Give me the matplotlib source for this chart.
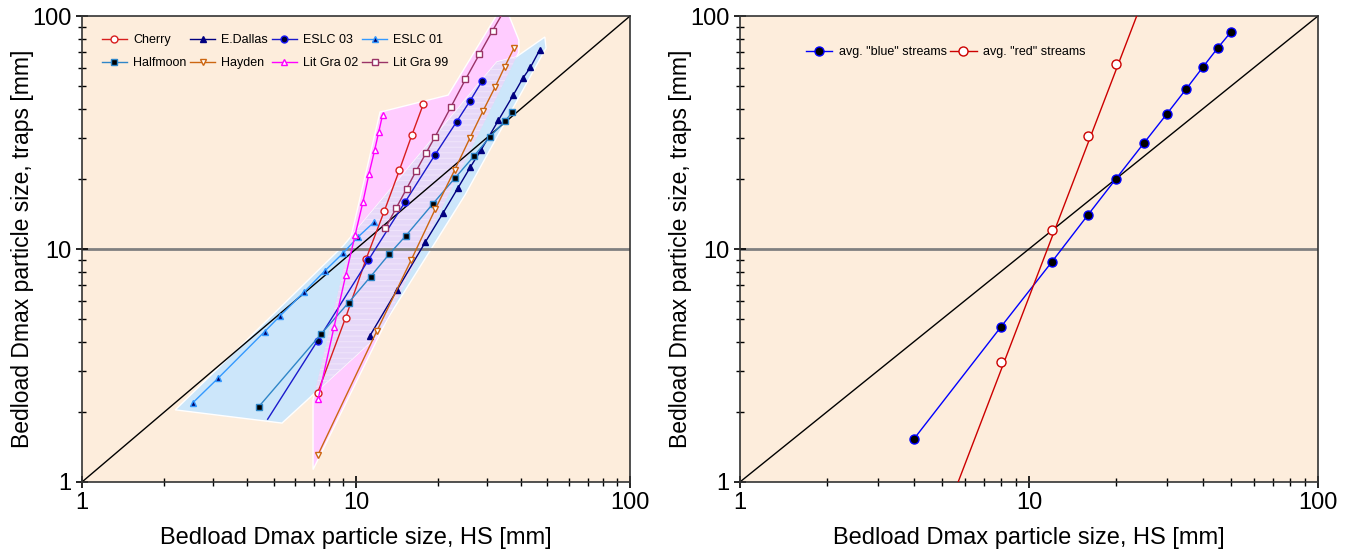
import numpy as np
import matplotlib.pyplot as plt
from matplotlib.patches import Polygon

plt.rcParams['font.family'] = ['Liberation Sans', 'DejaVu Sans']
plt.rcParams['hatch.linewidth'] = 0.8

# ---- left panel data: Dmax HS [mm] vs Dmax traps [mm]
cherry_x = [7.25, 9.17, 10.9, 12.7, 14.4, 16.0, 17.6]
cherry_y = [2.42, 5.08, 9.10, 14.6, 21.8, 30.9, 41.8]

edallas_x = [11.25, 14.1, 17.9, 20.8, 23.5, 26.1, 28.6, 33.1, 37.5, 40.6, 43.3, 46.9]
edallas_y = [4.25, 6.65, 10.7, 14.3, 18.2, 22.4, 26.6, 35.7, 45.8, 54.0, 60.2, 71.8]

eslc03_x = [4.76, 7.24, 11.1, 15.1, 19.4, 23.3, 26.1, 28.8]
eslc03_y = [1.86, 4.04, 8.97, 15.9, 25.3, 35.2, 43.3, 52.4]

eslc01_x = [2.54, 3.14, 4.64, 5.29, 6.47, 7.69, 8.97, 10.2, 11.6]
eslc01_y = [2.19, 2.79, 4.42, 5.17, 6.54, 8.05, 9.60, 11.3, 13.0]

halfmoon_x = [4.41, 7.45, 9.40, 11.3, 13.2, 15.2, 19.05, 23.0, 27.0, 30.8, 35.0, 37.2]
halfmoon_y = [2.10, 4.31, 5.89, 7.61, 9.49, 11.4, 15.6, 20.2, 25.1, 30.3, 35.4, 38.8]

hayden_x = [7.27, 11.9, 15.9, 19.45, 22.9, 26.1, 29.1, 32.2, 34.9, 37.8]
hayden_y = [1.31, 4.43, 8.97, 14.8, 21.8, 30.1, 39.2, 49.6, 60.6, 73.1]

litgra02_x = [7.27, 8.31, 9.18, 9.93, 10.6, 11.15, 11.7, 12.1, 12.5]
litgra02_y = [2.26, 4.61, 7.74, 11.5, 15.9, 21.0, 26.6, 31.7, 37.6]

litgra99_x = [12.8, 14.0, 15.3, 16.6, 18.0, 19.4, 22.2, 25.1, 28.2, 31.5, 35.3]
litgra99_y = [12.3, 14.95, 18.15, 21.7, 25.8, 30.2, 40.7, 53.5, 68.5, 86.5, 109]

# envelopes (shaded areas)
red_env_x = [6.97, 6.97, 12.24, 21.7, 34.7, 39.3, 39.3]
red_env_y = [1.13, 2.25, 38.7, 45.8, 113.7, 78.9, 70.0]
blue_env_x = [2.19, 5.37, 11.83, 25.0, 49.4, 48.9, 38.4, 32.7, 8.97]
blue_env_y = [2.04, 1.79, 4.19, 17.06, 72.9, 81.3, 66.7, 63.5, 10.3]

# ---- right panel data
blue_avg_x = [4, 8, 12, 16, 20, 25, 30, 35, 40, 45, 50]
blue_avg_y = [1.53, 4.63, 8.8, 14.0, 20.0, 28.5, 38.0, 48.6, 60.4, 72.9, 85.4]
red_avg_x = [8, 12, 16, 20]
red_avg_y = [3.27, 12.07, 30.5, 62.2]
red_fit_x = [5.69, 23.6]
red_fit_y = [1, 100]

one_x = [1, 100]
one_y = [1, 100]

BG = '#fdeddc'


def style_axes(ax):
    ax.set_xscale('log')
    ax.set_yscale('log')
    ax.set_xlim(1, 100)
    ax.set_ylim(1, 100)
    ax.set_facecolor(BG)
    ax.set_xticks([1, 10, 100])
    ax.set_xticklabels(['1', '10', '100'])
    ax.set_yticks([1, 10, 100])
    ax.set_yticklabels(['1', '10', '100'])
    ax.tick_params(which='major', direction='inout', length=9, width=1.2, labelsize=17, pad=3)
    ax.tick_params(which='minor', direction='inout', length=6, width=1.0)
    for s in ax.spines.values():
        s.set_color('#333333')
        s.set_linewidth(1.2)
    ax.set_xlabel('Bedload Dmax particle size, HS [mm]', fontsize=17, labelpad=9)
    ax.set_ylabel('Bedload Dmax particle size, traps [mm]', fontsize=16.5, labelpad=-1)


fig = plt.figure(figsize=(13.51, 5.54), dpi=100)
ax1 = fig.add_axes([0.0607, 0.130, 0.4056, 0.841])
ax2 = fig.add_axes([0.5477, 0.130, 0.4278, 0.841])

# ---------------- left panel
style_axes(ax1)
pink = Polygon(np.column_stack([red_env_x, red_env_y]), closed=True,
               facecolor='#ffccff', edgecolor='white', lw=1, zorder=1.2)
ax1.add_patch(pink)
blue = Polygon(np.column_stack([blue_env_x, blue_env_y]), closed=True,
               facecolor='#cce6fa', edgecolor='white', lw=1, zorder=1.3)
ax1.add_patch(blue)
overlap = Polygon(np.column_stack([blue_env_x, blue_env_y]), closed=True,
                  facecolor='#e6d8f8', edgecolor='#efe4fb', lw=0, hatch='---', zorder=1.4)
ax1.add_patch(overlap)
overlap.set_clip_path(pink)
ax1.axhline(10, color='#808080', lw=2, zorder=1.5)
ax1.plot(one_x, one_y, color='black', lw=1, zorder=1.6)

ms = 5
h_cherry, = ax1.plot(cherry_x, cherry_y, color='#d81e1e', lw=1, marker='o', ms=ms,
                     mfc='white', mec='#d81e1e', label='Cherry', zorder=3)
h_edallas, = ax1.plot(edallas_x, edallas_y, color='#000080', lw=1, marker='^', ms=ms,
                      mfc='#000080', mec='#000080', label='E.Dallas', zorder=3)
h_eslc03, = ax1.plot(eslc03_x, eslc03_y, color='#1a1acc', lw=1, marker='o', ms=ms,
                     mfc='#000033', mec='#1a1aff', markevery=list(range(1, len(eslc03_x))),
                     label='ESLC 03', zorder=3)
h_eslc01, = ax1.plot(eslc01_x, eslc01_y, color='#3399ff', lw=1, marker='^', ms=ms,
                     mfc='#000066', mec='#3399ff', label='ESLC 01', zorder=3)
h_half, = ax1.plot(halfmoon_x, halfmoon_y, color='#2f86c8', lw=1, marker='s', ms=ms,
                   mfc='black', mec='#2f86c8', label='Halfmoon', zorder=3)
h_hayden, = ax1.plot(hayden_x, hayden_y, color='#cc6611', lw=1, marker='v', ms=ms,
                     mfc='white', mec='#cc6611', label='Hayden', zorder=3)
h_lg02, = ax1.plot(litgra02_x, litgra02_y, color='#ff00ff', lw=1, marker='^', ms=ms,
                   mfc='white', mec='#ff00ff', label='Lit Gra 02', zorder=3)
h_lg99, = ax1.plot(litgra99_x, litgra99_y, color='#993366', lw=1, marker='s', ms=ms,
                   mfc='white', mec='#993366', label='Lit Gra 99', zorder=3)

# legend filled column by column -> order so rows read left to right
handles = [h_cherry, h_half, h_edallas, h_hayden, h_eslc03, h_lg02, h_eslc01, h_lg99]
ax1.legend(handles=handles, loc='upper left', ncol=4, frameon=False, fontsize=9,
           bbox_to_anchor=(0.02, 0.98), handlelength=2.0, handletextpad=0.5,
           columnspacing=0.3, labelspacing=0.9, borderaxespad=0.3)

# ---------------- right panel
style_axes(ax2)
ax2.axhline(10, color='#808080', lw=2, zorder=1.5)
ax2.plot(one_x, one_y, color='black', lw=1, zorder=1.6)
ax2.plot(blue_avg_x, blue_avg_y, color='#0000ff', lw=1, marker='o', ms=6.5,
         mfc='black', mec='#0000ff', label='avg. "blue" streams', zorder=3)
ax2.plot(red_fit_x, red_fit_y, color='#cc0000', lw=1, zorder=3)
ax2.plot(red_avg_x, red_avg_y, ls='none', marker='o', ms=6.5,
         mfc='white', mec='#cc0000', zorder=4)
ax2.plot([], [], color='#cc0000', lw=1, marker='o', ms=6.5, mfc='white',
         mec='#cc0000', label='avg. "red" streams')
ax2.legend(loc='upper left', ncol=2, frameon=False, fontsize=9,
           bbox_to_anchor=(0.095, 0.96), handlelength=2.1, handletextpad=0.5,
           columnspacing=0.3)

fig.savefig('out.png', dpi=100)
